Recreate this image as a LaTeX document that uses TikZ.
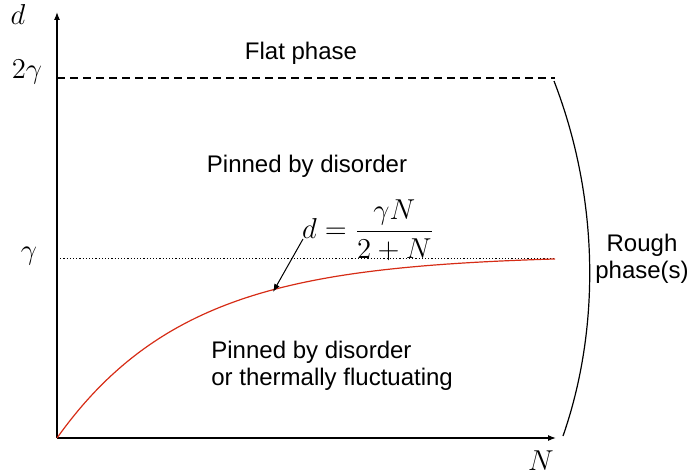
\documentclass[tikz,border=0pt]{standalone}
\usepackage{fontspec}
\setmainfont{Liberation Sans}
\usetikzlibrary{arrows.meta}
\definecolor{curvered}{RGB}{214,44,22}
\begin{document}
\begin{tikzpicture}[x=0.5pt,y=-0.5pt,
  axis/.style={line width=0.6pt,-{Latex[length=4pt,width=3pt]}},
  lbl/.style={font=\fontsize{12}{13.5}\selectfont,inner sep=0pt},
  mlbl/.style={font=\fontsize{14}{16}\selectfont,inner sep=0pt},
  pointer/.style={line width=0.5pt,-{Latex[length=4pt,width=3pt]}}]
\useasboundingbox (0,0) rectangle (688,475);
\coordinate (O) at (57,438);
\coordinate (ytop) at (57,12);
\coordinate (xend) at (556,438);
\draw[axis] (O) -- (ytop);
\draw[axis] (O) -- (xend);
\node[mlbl] (dlab) at (18,15) {$d$};
\node[mlbl] (Nlab) at (541,461) {$N$};
\node[mlbl] (g2) at (27,72) {$2\gamma$};
\node[mlbl] (g1) at (29,256) {$\gamma$};
\coordinate (flatL) at (57,78);
\coordinate (flatR) at (555,78);
\draw[line width=0.8pt,dash pattern=on 4pt off 2.5pt] (flatL) -- (flatR);
\coordinate (gL) at (57,258);
\coordinate (gR) at (555,258);
\draw[line width=0.4pt,dash pattern=on 0.6pt off 1pt] (gL) -- (gR);
\draw[curvered,line width=0.6pt] plot[domain=0:498,samples=120] ({57+\x},{438-183*(1-exp(-\x/130))});
\coordinate (cpt) at (273,292);
\node[lbl] (flat) at (301,53) {Flat phase};
\node[lbl] (pin) at (307,166) {Pinned by disorder};
\node[lbl,align=left,anchor=west] (pin2) at (211,366) {Pinned by disorder\\or thermally fluctuating};
\node[lbl,align=center] (rough) at (642,259) {Rough\\phase(s)};
\node[mlbl] (eq) at (368,230) {$d=\displaystyle\frac{\gamma N}{2+N}$};
\coordinate (arrs) at (303,239);
\draw[pointer] (arrs) -- (cpt);
\coordinate (arcT) at (554,81);
\coordinate (arcB) at (563,436);
\draw[line width=0.6pt] (arcT) .. controls (600,200) and (600,330) .. (arcB);
\end{tikzpicture}
\end{document}
